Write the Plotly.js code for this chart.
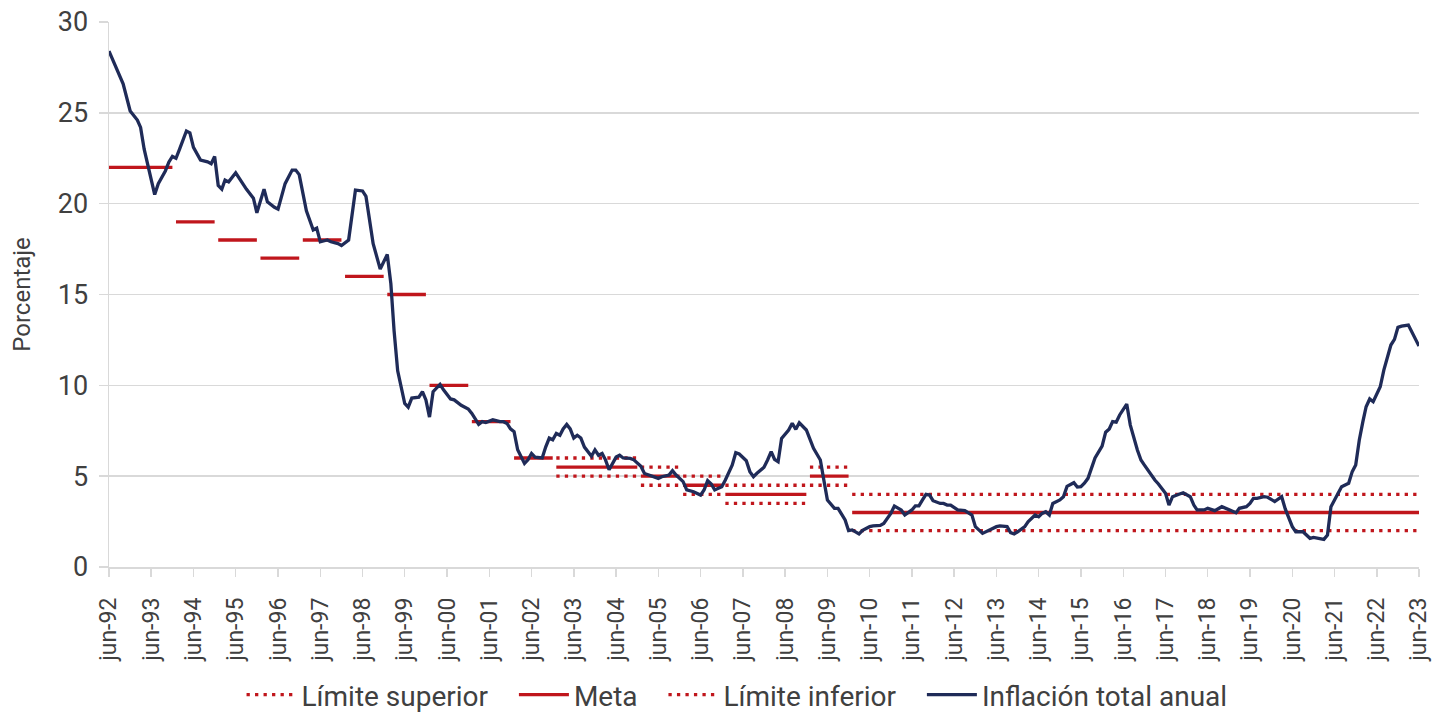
<!DOCTYPE html>
<html>
<head>
<meta charset="utf-8">
<script src="https://cdn.plot.ly/plotly-3.0.1.min.js"></script>
<style>html,body{margin:0;padding:0;background:#fff;overflow:hidden;width:1448px;height:713px;}#chart{width:1448px;height:720px;}</style>
</head>
<body>
<div id="chart"></div>
<script>
// Inflación total anual (%)
const months = [
"1992-06","1992-10","1992-12","1993-02","1993-03","1993-04","1993-07","1993-08","1993-10","1993-11","1993-12",
"1994-01","1994-02","1994-04","1994-05","1994-06","1994-08","1994-10","1994-11","1994-12",
"1995-01","1995-02","1995-03","1995-04","1995-06","1995-07","1995-09","1995-11","1995-12",
"1996-02","1996-03","1996-05","1996-06","1996-08","1996-10","1996-11","1996-12",
"1997-02","1997-04","1997-05","1997-06","1997-08","1997-09","1997-11","1997-12",
"1998-02","1998-04","1998-06","1998-07","1998-09","1998-11",
"1999-01","1999-02","1999-03","1999-04","1999-06","1999-07","1999-08","1999-10","1999-11","1999-12",
"2000-01","2000-02","2000-04","2000-05","2000-07","2000-08","2000-10","2000-12",
"2001-01","2001-02","2001-03","2001-04","2001-05","2001-07","2001-09","2001-10","2001-11","2001-12",
"2002-01","2002-02","2002-04","2002-05","2002-06","2002-07","2002-09","2002-10","2002-11","2002-12",
"2003-01","2003-02","2003-03","2003-04","2003-05","2003-06","2003-07","2003-08","2003-09","2003-11","2003-12",
"2004-01","2004-02","2004-03","2004-04","2004-06","2004-07","2004-08","2004-10","2004-11",
"2005-01","2005-02","2005-04","2005-06","2005-07","2005-09","2005-10","2005-11",
"2006-01","2006-02","2006-04","2006-06","2006-07","2006-08","2006-09","2006-10","2006-12",
"2007-01","2007-03","2007-04","2007-05","2007-07","2007-08","2007-09","2007-10","2007-12",
"2008-01","2008-02","2008-03","2008-04","2008-05","2008-07","2008-08","2008-09","2008-10","2008-11","2008-12",
"2009-02","2009-04","2009-05","2009-06","2009-08","2009-09","2009-11","2009-12",
"2010-01","2010-02","2010-03","2010-04","2010-06","2010-07","2010-09","2010-10","2010-12",
"2011-01","2011-02","2011-03","2011-04","2011-06","2011-07","2011-08","2011-09","2011-10","2011-11","2011-12",
"2012-02","2012-03","2012-04","2012-05","2012-07","2012-08","2012-09","2012-11","2012-12",
"2013-02","2013-03","2013-04","2013-06","2013-07","2013-09","2013-10","2013-11","2013-12",
"2014-02","2014-03","2014-05","2014-06","2014-07","2014-08","2014-09","2014-10","2014-12",
"2015-01","2015-02","2015-04","2015-05","2015-06","2015-07","2015-08","2015-09","2015-10","2015-12",
"2016-01","2016-02","2016-03","2016-04","2016-05","2016-07","2016-08","2016-10","2016-11","2016-12",
"2017-01","2017-03","2017-04","2017-06","2017-07","2017-08","2017-10","2017-11",
"2018-01","2018-02","2018-03","2018-05","2018-06","2018-08","2018-10","2018-12",
"2019-01","2019-02","2019-03","2019-05","2019-06","2019-07","2019-08","2019-10","2019-11",
"2020-01","2020-03","2020-04","2020-06","2020-07","2020-09","2020-11","2020-12",
"2021-03","2021-04","2021-05","2021-06","2021-08","2021-10","2021-11","2021-12",
"2022-01","2022-02","2022-03","2022-04","2022-05","2022-07","2022-08","2022-10","2022-11","2022-12",
"2023-01","2023-03","2023-05","2023-06"
];
const inflation = [
28.4,26.6,25.1,24.6,24.2,23.0,20.5,21.1,21.8,22.3,22.6,
22.5,23.0,24.0,23.9,23.1,22.4,22.3,22.2,22.6,
21.0,20.8,21.3,21.2,21.7,21.4,20.8,20.3,19.5,
20.8,20.1,19.8,19.7,21.1,21.85,21.85,21.6,
19.6,18.55,18.65,17.9,18.0,17.9,17.8,17.7,
18.0,20.75,20.7,20.4,17.8,16.4,
17.2,15.6,13.0,10.8,9.0,8.8,9.3,9.35,9.65,9.2,
8.25,9.65,10.05,9.75,9.25,9.2,8.9,8.7,
8.45,8.1,7.85,8.0,7.95,8.1,8.0,8.0,7.9,7.6,
7.45,6.45,5.7,5.9,6.25,6.05,6.0,6.6,7.1,7.0,
7.35,7.25,7.6,7.85,7.6,7.1,7.25,7.1,6.6,6.1,6.45,
6.15,6.25,5.9,5.35,6.05,6.15,6.0,5.98,5.9,
5.55,5.15,5.0,4.88,4.97,5.06,5.3,5.06,
4.7,4.25,4.14,3.96,4.24,4.75,4.57,4.24,4.42,
4.79,5.6,6.29,6.22,5.85,5.25,4.97,5.16,5.49,
5.89,6.35,5.93,5.8,7.08,7.54,7.91,7.58,7.94,7.72,7.54,
6.53,5.89,4.79,3.69,3.23,3.23,2.59,2.0,
2.04,1.94,1.82,2.02,2.22,2.26,2.29,2.4,2.95,
3.36,3.23,3.14,2.86,3.14,3.36,3.36,3.69,4.0,3.96,3.65,
3.5,3.5,3.41,3.41,3.14,3.14,3.1,2.86,2.22,
1.85,1.94,2.04,2.22,2.26,2.22,1.89,1.82,1.94,
2.22,2.49,2.86,2.77,2.95,3.04,2.86,3.5,3.69,
3.87,4.44,4.64,4.4,4.42,4.61,4.88,5.5,6.0,6.65,
7.42,7.6,8.0,7.97,8.37,8.97,7.81,6.44,5.89,5.61,
5.3,4.79,4.57,4.06,3.41,3.87,4.02,4.09,
3.87,3.41,3.14,3.14,3.23,3.1,3.32,3.18,
3.1,2.99,3.23,3.32,3.5,3.78,3.78,3.87,3.84,
3.6,3.87,3.2,2.22,1.94,1.94,1.58,1.63,
1.52,1.76,3.32,3.69,4.42,4.61,5.25,5.61,
6.99,8.0,8.82,9.25,9.1,9.92,10.84,12.22,12.53,13.19,
13.26,13.32,12.53,12.16
];

// Metas de inflación por periodo
const targetStart = ["1992-06","1994-01","1995-01","1996-01","1997-01","1998-01","1999-01","2000-01","2001-01","2002-01","2003-01","2005-01","2006-01","2007-01","2009-01","2010-01"];
const targetEnd   = ["1993-12","1994-12","1995-12","1996-12","1997-12","1998-12","1999-12","2000-12","2001-12","2002-12","2004-12","2005-12","2006-12","2008-12","2009-12","2023-06"];
const meta        = [22, 19, 18, 17, 18, 16, 15, 10, 8, 6, 5.5, 5, 4.5, 4, 5, 3];
const limSup      = [null,null,null,null,null,null,null,null,null,null, 6, 5.5, 5, 4.5, 5.5, 4];
const limInf      = [null,null,null,null,null,null,null,null,null,null, 5, 4.5, 4, 3.5, 4.5, 2];

const tickLabels = ["jun-92","jun-93","jun-94","jun-95","jun-96","jun-97","jun-98","jun-99","jun-00","jun-01","jun-02","jun-03","jun-04","jun-05","jun-06","jun-07","jun-08","jun-09","jun-10","jun-11","jun-12","jun-13","jun-14","jun-15","jun-16","jun-17","jun-18","jun-19","jun-20","jun-21","jun-22","jun-23"];
const tickDates  = tickLabels.map((t, i) => (1992 + i) + "-06-01");

const seriesNames = ["Límite superior", "Meta", "Límite inferior", "Inflación total anual"];

function segments(vals) {
  const x = [], y = [];
  vals.forEach((v, i) => {
    if (v === null) return;
    x.push(targetStart[i] + "-01", targetEnd[i] + "-01", null);
    y.push(v, v, null);
  });
  return {x, y};
}

const RED = "#c0161c";
const NAVY = "#1f2b58";
const PAD = "\u00a0\u00a0\u00a0";
const sup = segments(limSup), met = segments(meta), inf = segments(limInf);

const traces = [
  {x: sup.x, y: sup.y, name: seriesNames[0] + PAD, mode: "lines", connectgaps: false,
   line: {color: RED, width: 3.3, dash: "3.3px,5.2px"}, hoverinfo: "skip"},
  {x: met.x, y: met.y, name: seriesNames[1] + PAD, mode: "lines", connectgaps: false,
   line: {color: RED, width: 3.3}, hoverinfo: "skip"},
  {x: inf.x, y: inf.y, name: seriesNames[2] + PAD, mode: "lines", connectgaps: false,
   line: {color: RED, width: 3.3, dash: "3.3px,5.2px"}, hoverinfo: "skip"},
  {x: months.map(m => m + "-01"), y: inflation, name: seriesNames[3], mode: "lines",
   line: {color: NAVY, width: 3.3}}
];

const layout = {
  width: 1448, height: 720,
  margin: {l: 109, r: 29, t: 22, b: 153},
  paper_bgcolor: "#ffffff", plot_bgcolor: "#ffffff",
  font: {family: "Roboto, Arial, sans-serif", color: "#404040"},
  showlegend: true,
  legend: {orientation: "h", xref: "container", yref: "container",
           x: 0.509, xanchor: "center", y: 0, yanchor: "bottom",
           font: {size: 28, color: "#404040"}, itemwidth: 50, traceorder: "normal"},
  xaxis: {
    type: "date",
    range: ["1992-06-01", "2023-06-01"],
    tickvals: tickDates, ticktext: tickLabels,
    tickangle: -90,
    tickfont: {size: 23, color: "#404040"},
    ticks: "outside", ticklen: 8, tickcolor: "#d9d9d9", tickwidth: 1.5,
    ticklabelstandoff: 12,
    showline: true, linecolor: "#d9d9d9", linewidth: 1.5,
    showgrid: false, zeroline: false
  },
  yaxis: {
    range: [0, 30], dtick: 5, tick0: 0,
    tickfont: {size: 27, color: "#404040"},
    ticks: "outside", ticklen: 9, tickcolor: "#d9d9d9", tickwidth: 1.5,
    ticklabelstandoff: 5,
    showline: true, linecolor: "#d9d9d9", linewidth: 1.5,
    showgrid: true, gridcolor: "#d9d9d9", gridwidth: 1.5,
    zeroline: false,
    title: {text: "Porcentaje", font: {size: 24, color: "#404040"}, standoff: 20}
  }
};

Plotly.newPlot("chart", traces, layout, {staticPlot: true, displayModeBar: false});
</script>
</body>
</html>
